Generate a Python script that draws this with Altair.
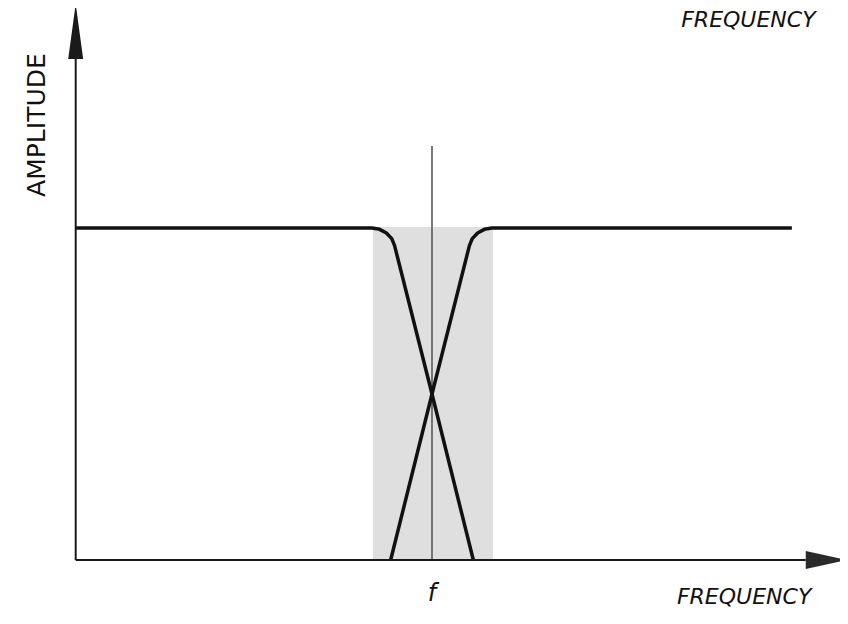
import altair as alt
import pandas as pd

# ---- data (frequency in Hz, crossover f = 1000; amplitude relative, passband = 1) ----
low_freq = [0, 832, 853, 872, 887, 895, 1000, 1116]
low_amp = [1.0, 1.0, 0.996, 0.985, 0.968, 0.947, 0.5, 0.0]

high_freq = [884, 1000, 1105, 1113, 1128, 1147, 1168, 2010]
high_amp = [0.0, 0.5, 0.947, 0.968, 0.985, 0.996, 1.0, 1.0]

band_start = [834]
band_end = [1171]
band_top = [1.003]

crossover_freq = [1000]
crossover_top = [1.247]

# axes geometry (data units)
y_axis_top = [1.509]
x_axis_end = [2049]
y_head_x = [-21, 0, 21]
y_head_y = [1.509, 1.675, 1.509]
x_head_x = [2049, 2165, 2049]
x_head_y = [-0.027, 0.0, 0.027]

X_DOMAIN = [-190, 2145.1]
Y_DOMAIN = [-0.1506, 1.6627]

xs = alt.Scale(domain=X_DOMAIN, nice=False, zero=False)
ys = alt.Scale(domain=Y_DOMAIN, nice=False, zero=False)

curves = pd.DataFrame(
    {"freq": low_freq + high_freq,
     "amp": low_amp + high_amp,
     "series": ["low"] * len(low_freq) + ["high"] * len(high_freq),
     "order": list(range(len(low_freq))) + list(range(len(high_freq)))}
)
band = pd.DataFrame({"x1": band_start, "x2": band_end, "y1": [0.0], "y2": band_top})
vline = pd.DataFrame({"x": crossover_freq, "y1": [0.0], "y2": crossover_top})
yaxis = pd.DataFrame({"x": [0.0], "y1": [0.0], "y2": y_axis_top})
xaxis = pd.DataFrame({"y": [0.0], "x1": [0.0], "x2": x_axis_end})
yhead = pd.DataFrame({"x": y_head_x, "y": y_head_y, "base": [y_head_y[0]] * 3})
xhead = pd.DataFrame({"x": x_head_x, "y": x_head_y, "base": [x_head_x[0]] * 3})

labels_freq = pd.DataFrame({"x": [1876, 1888], "y": [-0.1325, 1.6054], "t": ["FREQUENCY", "FREQUENCY"]})
label_f = pd.DataFrame({"x": [1000], "y": [-0.1235], "t": ["f"]})
label_amp = pd.DataFrame({"x": [-110], "y": [1.310], "t": ["AMPLITUDE"]})

FONT = "DejaVu Sans"

shade = alt.Chart(band).mark_rect(color="#dfdfdf").encode(
    x=alt.X("x1:Q", scale=xs, axis=None), x2="x2:Q",
    y=alt.Y("y1:Q", scale=ys, axis=None), y2="y2:Q")

center = alt.Chart(vline).mark_rule(color="#5a5a5a", strokeWidth=1.6).encode(
    x=alt.X("x:Q", scale=xs, axis=None),
    y=alt.Y("y1:Q", scale=ys, axis=None), y2="y2:Q")

lines = alt.Chart(curves).mark_line(color="#111111", strokeWidth=3.5, strokeJoin="round").encode(
    x=alt.X("freq:Q", scale=xs, axis=None),
    y=alt.Y("amp:Q", scale=ys, axis=None),
    detail="series:N", order="order:Q")

yax = alt.Chart(yaxis).mark_rule(color="#1a1a1a", strokeWidth=2).encode(
    x=alt.X("x:Q", scale=xs, axis=None),
    y=alt.Y("y1:Q", scale=ys, axis=None), y2="y2:Q")

xax = alt.Chart(xaxis).mark_rule(color="#1a1a1a", strokeWidth=2).encode(
    y=alt.Y("y:Q", scale=ys, axis=None),
    x=alt.X("x1:Q", scale=xs, axis=None), x2="x2:Q")

yarrow = alt.Chart(yhead).mark_area(color="#1a1a1a", orient="vertical").encode(
    x=alt.X("x:Q", scale=xs, axis=None),
    y=alt.Y("y:Q", scale=ys, axis=None), y2="base:Q")

xarrow = alt.Chart(xhead).mark_area(color="#2a2a2a", orient="horizontal").encode(
    y=alt.Y("y:Q", scale=ys, axis=None),
    x=alt.X("x:Q", scale=xs, axis=None), x2="base:Q")

t_freq = alt.Chart(labels_freq).mark_text(
    font=FONT, fontSize=22, fontStyle="italic", color="#111111",
    align="center", baseline="alphabetic").encode(
    x=alt.X("x:Q", scale=xs, axis=None), y=alt.Y("y:Q", scale=ys, axis=None), text="t:N")

t_f = alt.Chart(label_f).mark_text(
    font=FONT, fontSize=24, fontStyle="italic", color="#111111",
    align="center", baseline="alphabetic").encode(
    x=alt.X("x:Q", scale=xs, axis=None), y=alt.Y("y:Q", scale=ys, axis=None), text="t:N")

t_amp = alt.Chart(label_amp).mark_text(
    font=FONT, fontSize=25, color="#111111", angle=270,
    align="center", baseline="middle").encode(
    x=alt.X("x:Q", scale=xs, axis=None), y=alt.Y("y:Q", scale=ys, axis=None), text="t:N")

chart = alt.layer(shade, center, lines, yax, xax, yarrow, xarrow, t_freq, t_f, t_amp).properties(
    width=832, height=602,
    autosize=alt.AutoSizeParams(type="none"),
    padding={"left": 0, "right": 0, "top": 0, "bottom": 0},
    background="white",
).configure_view(stroke=None)

chart.save("out.html", embed_options={"renderer": "svg", "actions": False})
